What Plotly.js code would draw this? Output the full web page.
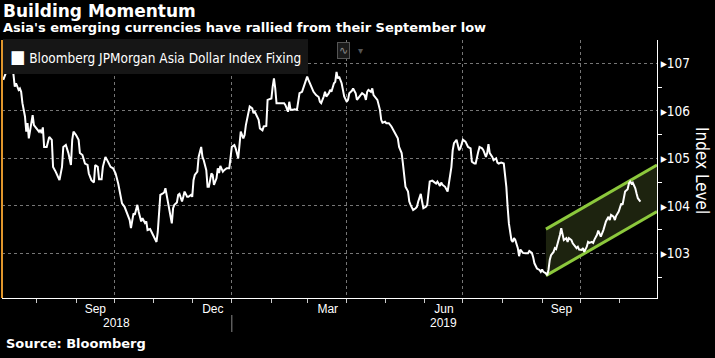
<!DOCTYPE html>
<html><head><meta charset="utf-8">
<script src="https://cdn.plot.ly/plotly-3.0.1.min.js"></script>
<style>html,body{margin:0;padding:0;background:#000;}#chart{width:715px;height:358px;}</style>
</head><body><div id="chart"></div>
<script>
const seriesName = 'Bloomberg JPMorgan Asia Dollar Index Fixing';
const dates = ['2018-07-06','2018-07-08','2018-07-10','2018-07-11','2018-07-12','2018-07-13','2018-07-14','2018-07-15','2018-07-16','2018-07-18','2018-07-19','2018-07-20','2018-07-21','2018-07-23','2018-07-24','2018-07-25','2018-07-26','2018-07-27','2018-07-29','2018-07-30','2018-08-01','2018-08-03','2018-08-04','2018-08-05','2018-08-06','2018-08-07','2018-08-09','2018-08-11','2018-08-13','2018-08-14','2018-08-16','2018-08-18','2018-08-19','2018-08-21','2018-08-22','2018-08-24','2018-08-26','2018-08-28','2018-08-29','2018-08-30','2018-09-01','2018-09-03','2018-09-04','2018-09-06','2018-09-08','2018-09-10','2018-09-11','2018-09-13','2018-09-15','2018-09-16','2018-09-18','2018-09-19','2018-09-21','2018-09-22','2018-09-24','2018-09-26','2018-09-28','2018-09-30','2018-10-02','2018-10-04','2018-10-06','2018-10-07','2018-10-09','2018-10-11','2018-10-13','2018-10-14','2018-10-16','2018-10-17','2018-10-19','2018-10-20','2018-10-22','2018-10-23','2018-10-25','2018-10-26','2018-10-27','2018-10-29','2018-10-31','2018-11-02','2018-11-03','2018-11-04','2018-11-06','2018-11-08','2018-11-09','2018-11-10','2018-11-12','2018-11-14','2018-11-15','2018-11-16','2018-11-17','2018-11-19','2018-11-20','2018-11-21','2018-11-23','2018-11-24','2018-11-25','2018-11-27','2018-11-28','2018-11-30','2018-12-01','2018-12-02','2018-12-03','2018-12-05','2018-12-06','2018-12-08','2018-12-09','2018-12-10','2018-12-12','2018-12-13','2018-12-14','2018-12-16','2018-12-17','2018-12-18','2018-12-20','2018-12-21','2018-12-22','2018-12-23','2018-12-25','2018-12-26','2018-12-28','2018-12-30','2018-12-31','2019-01-01','2019-01-03','2019-01-04','2019-01-06','2019-01-07','2019-01-08','2019-01-10','2019-01-11','2019-01-12','2019-01-14','2019-01-15','2019-01-17','2019-01-18','2019-01-19','2019-01-20','2019-01-22','2019-01-23','2019-01-25','2019-01-26','2019-01-28','2019-01-29','2019-01-30','2019-02-01','2019-02-02','2019-02-03','2019-02-04','2019-02-05','2019-02-07','2019-02-09','2019-02-11','2019-02-12','2019-02-14','2019-02-15','2019-02-16','2019-02-18','2019-02-19','2019-02-21','2019-02-22','2019-02-23','2019-02-25','2019-02-27','2019-03-01','2019-03-02','2019-03-04','2019-03-06','2019-03-08','2019-03-10','2019-03-11','2019-03-12','2019-03-14','2019-03-15','2019-03-16','2019-03-18','2019-03-19','2019-03-20','2019-03-22','2019-03-23','2019-03-24','2019-03-25','2019-03-26','2019-03-28','2019-03-29','2019-03-30','2019-04-01','2019-04-02','2019-04-03','2019-04-05','2019-04-06','2019-04-08','2019-04-09','2019-04-10','2019-04-11','2019-04-13','2019-04-15','2019-04-16','2019-04-17','2019-04-18','2019-04-20','2019-04-21','2019-04-22','2019-04-23','2019-04-25','2019-04-27','2019-04-28','2019-04-29','2019-05-01','2019-05-02','2019-05-04','2019-05-06','2019-05-07','2019-05-09','2019-05-11','2019-05-12','2019-05-14','2019-05-15','2019-05-16','2019-05-17','2019-05-19','2019-05-20','2019-05-21','2019-05-23','2019-05-25','2019-05-26','2019-05-27','2019-05-29','2019-05-30','2019-05-31','2019-06-02','2019-06-03','2019-06-05','2019-06-07','2019-06-08','2019-06-10','2019-06-11','2019-06-13','2019-06-14','2019-06-15','2019-06-17','2019-06-18','2019-06-19','2019-06-20','2019-06-22','2019-06-23','2019-06-24','2019-06-26','2019-06-28','2019-06-29','2019-06-30','2019-07-01','2019-07-03','2019-07-05','2019-07-07','2019-07-08','2019-07-10','2019-07-11','2019-07-13','2019-07-14','2019-07-16','2019-07-17','2019-07-19','2019-07-20','2019-07-21','2019-07-22','2019-07-24','2019-07-25','2019-07-27','2019-07-28','2019-07-29','2019-07-31','2019-08-02','2019-08-03','2019-08-04','2019-08-05','2019-08-06','2019-08-08','2019-08-09','2019-08-10','2019-08-11','2019-08-13','2019-08-14','2019-08-15','2019-08-17','2019-08-19','2019-08-21','2019-08-22','2019-08-24','2019-08-25','2019-08-26','2019-08-28','2019-08-30','2019-08-31','2019-09-01','2019-09-02','2019-09-04','2019-09-05','2019-09-06','2019-09-07','2019-09-08','2019-09-10','2019-09-11','2019-09-12','2019-09-14','2019-09-15','2019-09-16','2019-09-17','2019-09-18','2019-09-20','2019-09-21','2019-09-22','2019-09-24','2019-09-25','2019-09-26','2019-09-28','2019-09-29','2019-09-30','2019-10-02','2019-10-03','2019-10-04','2019-10-06','2019-10-07','2019-10-08','2019-10-10','2019-10-11','2019-10-12','2019-10-14','2019-10-15','2019-10-16','2019-10-17','2019-10-19','2019-10-20','2019-10-21','2019-10-23','2019-10-24','2019-10-25','2019-10-27','2019-10-28','2019-10-29','2019-10-31','2019-11-01','2019-11-02','2019-11-03','2019-11-04','2019-11-05','2019-11-07','2019-11-08','2019-11-09','2019-11-10','2019-11-11','2019-11-13','2019-11-14','2019-11-15','2019-11-17'];
const values = [106.65,106.82,106.94,106.92,107.00,107.01,106.79,106.51,106.58,106.44,106.47,106.40,106.16,105.88,105.56,105.74,105.42,105.60,105.91,105.70,105.63,105.56,105.60,105.53,105.65,105.24,105.24,105.45,105.39,104.82,104.72,104.58,104.54,104.82,105.24,105.28,105.11,104.86,105.39,105.56,105.49,105.39,105.11,105.07,104.89,104.86,104.68,104.54,104.49,104.86,104.82,104.56,104.56,104.82,105.03,104.93,104.82,104.79,104.68,104.47,104.19,104.05,103.98,103.84,103.70,103.53,103.84,103.81,104.02,103.88,103.67,103.74,103.64,103.67,103.49,103.51,103.39,103.28,103.24,103.45,104.23,104.26,104.28,104.37,104.05,103.77,103.63,103.95,104.02,104.07,104.23,104.25,104.09,104.19,104.30,104.19,104.19,104.23,104.19,104.54,104.65,104.72,105.03,105.24,105.03,104.96,104.75,104.40,104.40,104.68,104.65,104.44,104.58,104.79,104.69,104.84,104.72,104.75,104.79,104.79,105.00,105.24,105.28,105.21,105.00,105.32,105.56,105.42,105.49,105.70,105.95,106.09,106.05,105.95,105.98,105.93,105.81,105.63,105.59,105.67,105.68,106.23,106.24,106.26,106.51,106.68,106.47,106.16,106.16,106.16,106.16,106.12,105.98,106.19,106.02,106.02,106.03,106.02,106.16,106.37,106.40,106.58,106.72,106.65,106.51,106.40,106.33,106.29,106.19,106.16,106.30,106.40,106.30,106.37,106.44,106.40,106.58,106.61,106.82,106.68,106.72,106.58,106.44,106.30,106.19,106.23,106.37,106.42,106.47,106.37,106.23,106.26,106.30,106.37,106.33,106.23,106.40,106.44,106.40,106.47,106.33,106.30,106.23,106.02,105.81,105.75,105.77,105.74,105.74,105.67,105.62,105.49,105.42,105.24,105.11,104.89,104.61,104.40,104.30,104.09,104.02,103.91,103.95,103.98,104.09,104.25,104.09,103.95,103.98,104.02,104.51,104.53,104.51,104.47,104.51,104.42,104.49,104.44,104.40,104.33,104.30,104.47,104.82,105.17,105.32,105.39,105.17,105.21,105.32,105.39,105.35,105.24,105.21,104.93,104.89,104.89,105.14,105.24,105.21,105.17,105.03,105.11,105.30,105.11,105.03,104.96,105.00,104.91,104.89,104.91,104.89,104.68,104.40,103.98,103.63,103.28,103.24,103.32,103.28,103.11,102.94,103.08,103.01,103.00,103.00,103.05,103.01,102.92,102.79,102.68,102.65,102.61,102.66,102.61,102.58,102.54,102.65,102.86,102.96,103.03,103.11,103.09,103.28,103.39,103.53,103.39,103.28,103.32,103.24,103.32,103.28,103.21,103.17,103.11,103.14,103.08,103.07,103.11,103.03,103.14,103.24,103.22,103.24,103.22,103.29,103.39,103.48,103.42,103.35,103.49,103.60,103.67,103.77,103.70,103.81,103.77,103.70,103.79,103.88,103.95,104.05,104.02,104.21,104.30,104.35,104.47,104.51,104.47,104.49,104.37,104.26,104.16,104.09];

const channelDates = ['2019-09-04', '2019-11-30'];
const channelUpper = [103.51, 104.86];
const channelLower = [102.53, 103.88];

const xRange = ['2018-07-05', '2019-11-30'];
const yRange = [102.06, 107.49];
// quarter boundaries carry the grid; each label names the month that ends there
const quarterGridDates = ['2018-10-01', '2019-01-01', '2019-04-01', '2019-07-01', '2019-10-01'];
const monthTickLabels = ['Sep', 'Dec', 'Mar', 'Jun', 'Sep'];
const yearLabels = ['2018', '2019'];
const yearLabelDates = ['2018-10-03', '2019-06-16'];
const yearBoundary = '2019-01-01';
const yTickVals = [103, 104, 105, 106, 107];
const yTickLabels = ['103', '104', '105', '106', '107'];

const titleText = 'Building Momentum';
const subtitleText = "Asia's emerging currencies have rallied from their September low";
const sourceText = 'Source: Bloomberg';
const yTitleText = 'Index Level';

const boldFont = 'DejaVu Sans, Verdana, sans-serif';
const uiFont = '"DejaVu Sans Condensed", "DejaVu Sans", sans-serif';
const axisFont = '"Liberation Sans", Arial, sans-serif';
const green = '#8cc83c';
const gridColor = '#767676';

const traces = [
  {x: channelDates, y: channelLower, mode: 'lines', line: {color: green, width: 3}, hoverinfo: 'skip', showlegend: false},
  {x: channelDates, y: channelUpper, mode: 'lines', fill: 'tonexty', fillcolor: 'rgb(29,35,15)', line: {color: green, width: 3}, hoverinfo: 'skip', showlegend: false},
  {x: dates, y: values, name: seriesName, mode: 'lines', line: {color: '#ffffff', width: 2}, showlegend: false}
];

const P = v => (298 - v) / 258; // page pixel row -> paper fraction, for text placement

const layout = {
  width: 715, height: 358,
  paper_bgcolor: '#000', plot_bgcolor: '#000',
  margin: {l: 2, r: 58, t: 40, b: 60},
  showlegend: false,
  xaxis: {
    type: 'date', range: xRange, tickmode: 'array', tickvals: quarterGridDates, ticktext: monthTickLabels,
    ticklabelshift: -19, ticklabelstandoff: -4,
    ticks: 'outside', ticklen: 4, tickcolor: '#cccccc', tickwidth: 1,
    showgrid: true, gridcolor: gridColor, griddash: '3px,3px', gridwidth: 1,
    showline: true, linecolor: '#ffffff', linewidth: 1, zeroline: false,
    tickfont: {family: axisFont, size: 12, color: '#ffffff'},
    minor: {ticks: 'outside', dtick: 'M1', tick0: '2018-01-01', ticklen: 4, tickcolor: '#cccccc', tickwidth: 1, showgrid: false}
  },
  yaxis: {
    side: 'right', range: yRange, tickmode: 'array', tickvals: yTickVals,
    ticktext: yTickLabels.map(t => '▸' + t),
    ticks: '', showgrid: true, gridcolor: gridColor, griddash: '3px,3px', gridwidth: 1,
    showline: true, linecolor: '#ffffff', linewidth: 1, zeroline: false,
    tickfont: {family: uiFont, size: 13.5, color: '#ffffff'},
    minor: {ticks: 'outside', tick0: 102.5, dtick: 1, ticklen: 4, tickcolor: '#ffffff', showgrid: false}
  },
  shapes: [
    {type: 'line', xref: 'paper', yref: 'paper', x0: 0, x1: 0, y0: 0, y1: 1, line: {color: '#e0962c', width: 2}},
    {type: 'line', xref: 'x', yref: 'paper', x0: yearBoundary, x1: yearBoundary, y0: P(315), y1: P(332), line: {color: '#888888', width: 1}}
  ],
  annotations: [
    {text: '<b>' + titleText + '</b>', xref: 'paper', yref: 'paper', x: 0, y: P(11), xanchor: 'left', yanchor: 'middle', xshift: -1, showarrow: false, font: {family: boldFont, size: 17, color: '#ffffff'}},
    {text: '<b>' + subtitleText + '</b>', xref: 'paper', yref: 'paper', x: 0, y: P(28), xanchor: 'left', yanchor: 'middle', xshift: -1, showarrow: false, font: {family: boldFont, size: 13, color: '#ffffff'}},
    {text: '<span style="font-size:18px">■</span> ' + seriesName, xref: 'paper', yref: 'paper', x: 0, y: P(56), xanchor: 'left', yanchor: 'middle', xshift: 1, showarrow: false, bgcolor: '#161616', borderwidth: 0, borderpad: 7, font: {family: uiFont, size: 13.5, color: '#ffffff'}},
    {text: '∿', xref: 'paper', yref: 'paper', x: (343 - 2) / 655, y: P(50.5), xanchor: 'center', yanchor: 'middle', showarrow: false, bgcolor: '#1a1a1a', bordercolor: '#555555', borderwidth: 1, borderpad: 1, font: {family: 'DejaVu Sans', size: 11, color: '#888888'}},
    {text: '▾', xref: 'paper', yref: 'paper', x: (360 - 2) / 655, y: P(50.5), xanchor: 'center', yanchor: 'middle', showarrow: false, font: {family: 'DejaVu Sans', size: 10, color: '#555555'}},
    {text: yTitleText, xref: 'paper', yref: 'paper', x: (702 - 2) / 655, y: P(170), xanchor: 'center', yanchor: 'middle', textangle: 90, showarrow: false, font: {family: uiFont, size: 17, color: '#ffffff'}},
    {text: yearLabels[0], xref: 'x', yref: 'paper', x: yearLabelDates[0], y: P(323), xanchor: 'center', yanchor: 'middle', showarrow: false, font: {family: axisFont, size: 12, color: '#ffffff'}},
    {text: yearLabels[1], xref: 'x', yref: 'paper', x: yearLabelDates[1], y: P(323), xanchor: 'center', yanchor: 'middle', showarrow: false, font: {family: axisFont, size: 12, color: '#ffffff'}},
    {text: '<b>' + sourceText + '</b>', xref: 'paper', yref: 'paper', x: 0, y: P(343.5), xanchor: 'left', yanchor: 'middle', xshift: 2, showarrow: false, font: {family: boldFont, size: 13, color: '#ffffff'}}
  ]
};

Plotly.newPlot('chart', traces, layout, {displayModeBar: false, staticPlot: true});
</script>
</body></html>
